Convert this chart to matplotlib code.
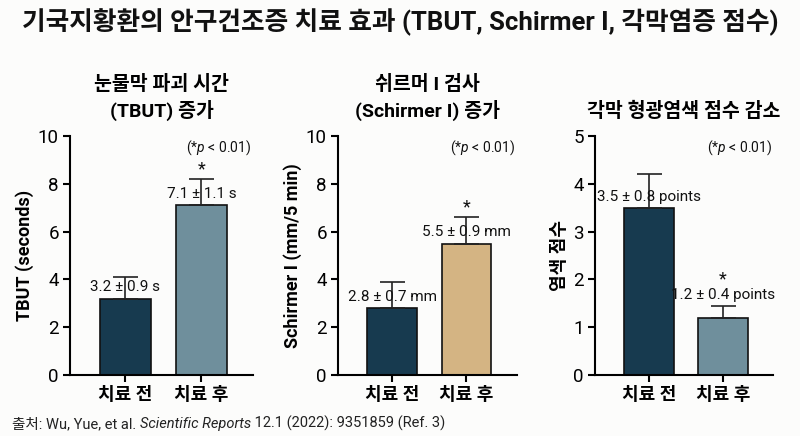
import matplotlib
matplotlib.use("Agg")
import matplotlib.pyplot as plt

plt.rcParams['font.family'] = ['Roboto', 'Noto Sans CJK KR', 'DejaVu Sans']
plt.rcParams['mathtext.fontset'] = 'custom'
plt.rcParams['mathtext.rm'] = 'Roboto'
plt.rcParams['mathtext.it'] = 'Roboto:italic'

# 데이터
groups = ['치료 전', '치료 후']

tbut_vals = [3.2, 7.1]
tbut_err = [0.9, 1.1]
tbut_labels = ['3.2 ± 0.9 s', '7.1 ± 1.1 s']

schirmer_vals = [2.8, 5.5]
schirmer_err = [1.1, 1.1]
schirmer_labels = ['2.8 ± 0.7 mm', '5.5 ± 0.9 mm']

stain_vals = [3.5, 1.2]
stain_err = [0.7, 0.25]
stain_labels = ['3.5 ± 0.8 points', '1.2 ± 0.4 points']

navy = '#173a4f'
slate = '#6f8f9c'
tan = '#d4b483'

# (제목, y축 라벨, 값, 오차, 라벨, 색, y최대, y눈금, 라벨을 오차막대 위에 둘지)
panels = [
    ('눈물막 파괴 시간\n(TBUT) 증가', 'TBUT (seconds)', tbut_vals, tbut_err, tbut_labels,
     [navy, slate], 10, [0, 2, 4, 6, 8, 10], [False, False]),
    ('쉬르머 I 검사\n(Schirmer I) 증가', 'Schirmer I (mm/5 min)', schirmer_vals, schirmer_err,
     schirmer_labels, [navy, tan], 10, [0, 2, 4, 6, 8, 10], [False, False]),
    ('각막 형광염색 점수 감소', '염색 점수', stain_vals, stain_err, stain_labels,
     [navy, slate], 5, [0, 1, 2, 3, 4, 5], [False, True]),
]

fig = plt.figure(figsize=(8, 4.36), dpi=100)
fig.patch.set_facecolor('#fcfcfb')

lefts = [70 / 800, 338 / 800, 595 / 800]
widths = [183 / 800, 179 / 800, 178 / 800]
bottom = 1 - 375 / 436
height = (375 - 136) / 436

for (title, ylabel, vals, errs, labels, colors, ymax, yticks, above), l, w in zip(panels, lefts, widths):
    ax = fig.add_axes([l, bottom, w, height])
    ax.set_facecolor('none')
    x = [0, 1]
    ax.bar(x, vals, width=0.67, color=colors, edgecolor='#111111', linewidth=1.2, zorder=2)
    ax.errorbar(x, vals, yerr=[[0, 0], errs], fmt='none', ecolor='#222222',
                elinewidth=1.2, capsize=9, capthick=1.2, zorder=3)
    for xi, v, e, lab, ab in zip(x, vals, errs, labels, above):
        y0 = v + e if ab else v
        t = ax.annotate(lab, (xi, y0), xytext=(0, 3), textcoords='offset points',
                        ha='center', va='bottom', fontsize=11, color='#111111', zorder=4)
        if xi == 1:
            # 유의성 별표
            if ab:
                ax.annotate('*', (0.5, 1), xycoords=t, xytext=(0, 6), textcoords='offset points',
                            ha='center', va='center', fontsize=13, color='#111111')
            else:
                ax.annotate('*', (xi, v + e), xytext=(0, 7), textcoords='offset points',
                            ha='center', va='center', fontsize=13, color='#111111')
    ax.text(0.81, 0.95, r'(*$\mathit{p}$ < 0.01)', transform=ax.transAxes,
            ha='center', va='center', fontsize=10, color='#111111')
    ax.set_xlim(-0.73, 1.68)
    ax.set_ylim(0, ymax)
    ax.set_yticks(yticks)
    ax.set_xticks(x)
    ax.set_xticklabels(groups, fontsize=13, fontweight='bold')
    ax.tick_params(axis='y', labelsize=13.5, length=5, width=1.5, pad=3)
    ax.tick_params(axis='x', length=5, width=1.5, pad=3)
    for s in ['top', 'right']:
        ax.spines[s].set_visible(False)
    for s in ['left', 'bottom']:
        ax.spines[s].set_linewidth(1.5)
    ax.set_ylabel(ylabel, fontsize=13, fontweight='bold', labelpad=3)
    ax.set_title(title, fontsize=14, fontweight='bold', pad=14, linespacing=1.3)

fig.text(0.5, 1 - 22 / 436, '기국지황환의 안구건조증 치료 효과 (TBUT, Schirmer I, 각막염증 점수)',
         ha='center', va='center', fontsize=18.5, fontweight='bold', color='#111111')

# 출처 (이탤릭 부분은 따로 이어 붙임)
base_y = 1 - 428 / 436
src_kw = dict(fontsize=10.5, color='#222222', va='baseline', ha='left')
t1 = fig.text(12 / 800, base_y, '출처: Wu, Yue, et al. ', **src_kw)
t2 = fig.text(0, base_y, 'Scientific Reports', style='italic', **src_kw)
t3 = fig.text(0, base_y, ' 12.1 (2022): 9351859 (Ref. 3)', **src_kw)

fig.canvas.draw()
inv = fig.transFigure.inverted()
t2.set_x(inv.transform((t1.get_window_extent().x1, 0))[0])
fig.canvas.draw()
t3.set_x(inv.transform((t2.get_window_extent().x1, 0))[0])

fig.savefig('out.png', dpi=100, facecolor=fig.get_facecolor())
